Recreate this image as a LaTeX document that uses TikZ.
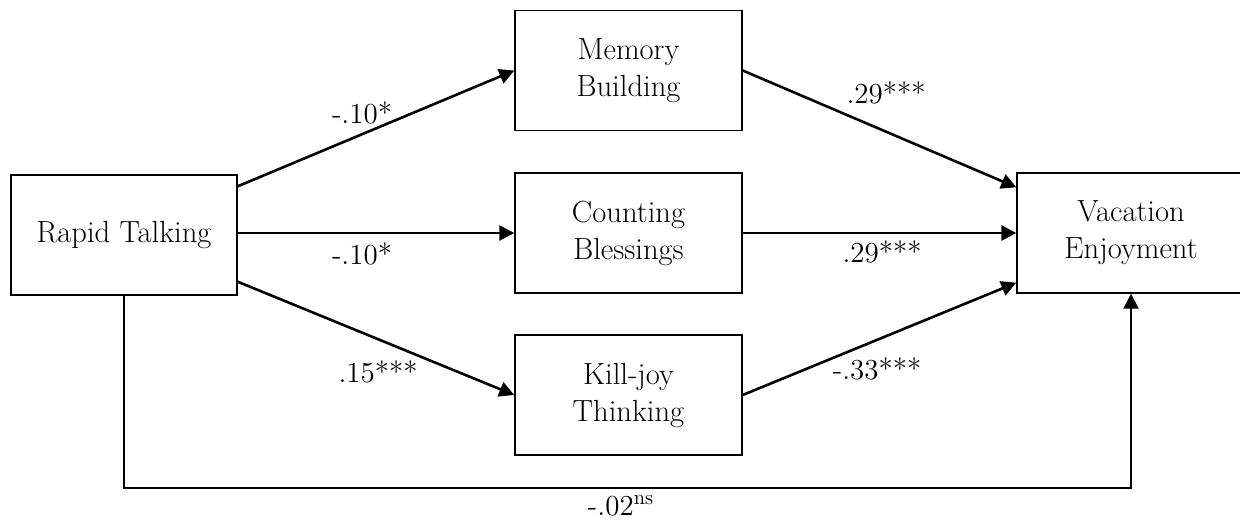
\documentclass[tikz,border=0pt]{standalone}
\usetikzlibrary{arrows.meta,calc}
\begin{document}
\begin{tikzpicture}[x=0.5pt,y=-0.5pt,
  box/.style={draw,line width=0.7pt,minimum width=113.5pt,minimum height=60pt,inner sep=0pt,align=center,font=\fontsize{15.3}{18.5}\selectfont},
  conn/.style={line width=1.3pt,-{Triangle[length=7.5pt,width=7.5pt]}},
  lab/.style={anchor=base,inner sep=0pt,font=\fontsize{14.5}{18.5}\selectfont}]
\useasboundingbox (0,0) rectangle (1240,520);
\node[box,minimum width=113pt] (R) at (124,235) {Rapid Talking};
\node[box] (M) at (628.5,70.5) {Memory\\Building};
\node[box] (C) at (628.5,233) {Counting\\Blessings};
\node[box] (K) at (628.5,395) {Kill-joy\\Thinking};
\node[box,minimum width=114pt] (V) at (1131,233) {Vacation\\Enjoyment};
\coordinate (b) at (1131,488);
\draw[conn] ($(R.north east)+(0,12)$) -- (M.west);
\draw[conn] (R.east |- C.west) -- (C.west);
\draw[conn] ($(R.south east)+(0,-14)$) -- (K.west);
\draw[conn] (M.east) -- ($(V.north west)+(0,15)$);
\draw[conn] (C.east) -- (V.west);
\draw[conn] (K.east) -- ($(V.south west)+(0,-11)$);
\draw[line width=1pt,line join=miter,-{Triangle[length=7.5pt,width=7.5pt]}] (R.south) |- (b) -- (V.south);
\node[lab] (l1) at (362,123) {-.10*};
\node[lab] (l2) at (362,264) {-.10*};
\node[lab] (l3) at (378,382) {.15***};
\node[lab] (l4) at (886,103) {.29***};
\node[lab] (l5) at (882,262) {.29***};
\node[lab] (l6) at (877,379) {-.33***};
\node[lab] (l7) at (621,515) {-.02\textsuperscript{ns}};
\end{tikzpicture}
\end{document}
